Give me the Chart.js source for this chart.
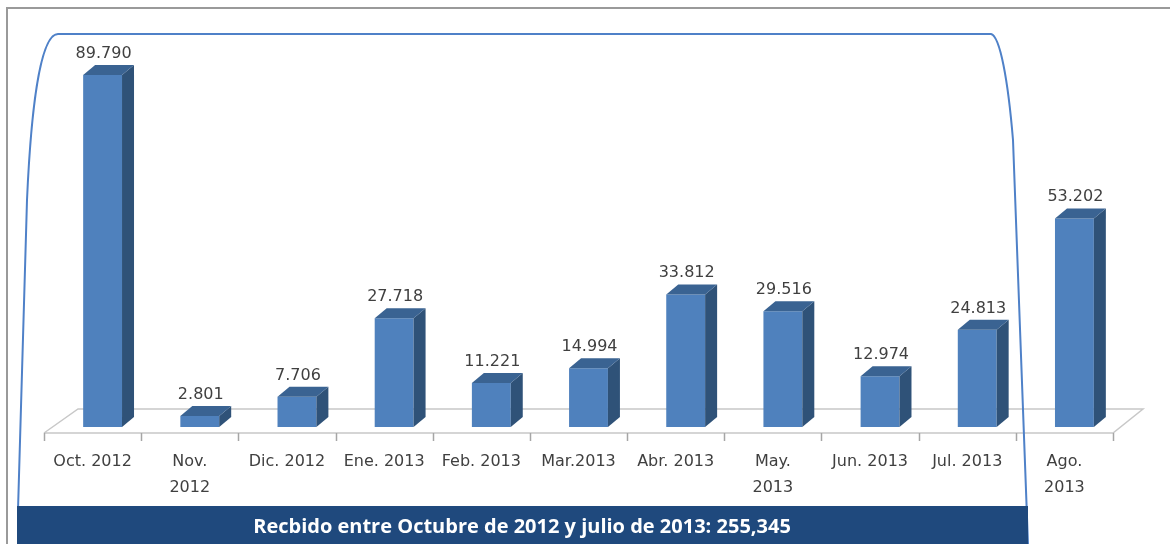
<!DOCTYPE html>
<html>
<head>
<meta charset="utf-8">
<script src="https://cdn.jsdelivr.net/npm/chart.js@4.4.1/dist/chart.umd.min.js"></script>
<style>
  html, body { margin: 0; padding: 0; background: #ffffff; }
  #wrap { width: 1170px; height: 544px; position: relative; }
  canvas { display: block; }
</style>
</head>
<body>
<div id="wrap"><canvas id="c" width="1170" height="544"></canvas></div>
<script>
// ---- Data ----
const categories = [
  "Oct. 2012", ["Nov.", "2012"], "Dic. 2012", "Ene. 2013", "Feb. 2013", "Mar.2013",
  "Abr. 2013", ["May.", "2013"], "Jun. 2013", "Jul. 2013", ["Ago.", "2013"]
];
const received = [89790, 2801, 7706, 27718, 11221, 14994, 33812, 29516, 12974, 24813, 53202];
const valueLabels = ["89.790", "2.801", "7.706", "27.718", "11.221", "14.994", "33.812", "29.516", "12.974", "24.813", "53.202"];
const bannerText = "Recbido entre Octubre de 2012 y julio de 2013: 255,345";

// ---- Styles ----
const FRONT = "#4F81BD";
const SIDE = "#2F5278";
const TOP = "#3A6392";
const TEXT = "#404040";
const DEPTH_X = 12, DEPTH_Y = 10, BAR_SHIFT = 10;

const threeD = {
  id: "threeD",
  afterDatasetsUpdate(chart) {
    const meta = chart.getDatasetMeta(0);
    meta.data.forEach(el => { el.x = el.x + BAR_SHIFT; });
  },
  beforeDatasetsDraw(chart) {
    const ctx = chart.ctx;
    const a = chart.chartArea;
    const n = categories.length;
    const front = a.bottom + 6, back = a.bottom - 18, dx = 34;
    ctx.save();
    ctx.strokeStyle = "#C8C8C8";
    ctx.lineWidth = 1.5;
    ctx.beginPath();
    ctx.moveTo(a.left, front);
    ctx.lineTo(a.right, front);
    ctx.lineTo(a.right + 30, back);
    ctx.lineTo(a.left + dx, back);
    ctx.lineTo(a.left, front);
    ctx.stroke();
    const step = (a.right - a.left) / n;
    ctx.strokeStyle = "#A6A6A6";
    for (let i = 0; i <= n; i++) {
      const x = Math.round(a.left + i * step) + 0.5;
      ctx.beginPath();
      ctx.moveTo(x, front);
      ctx.lineTo(x, front + 8);
      ctx.stroke();
    }
    ctx.restore();
  },
  afterDatasetsDraw(chart) {
    const ctx = chart.ctx;
    const meta = chart.getDatasetMeta(0);
    ctx.save();
    meta.data.forEach((el, i) => {
      const l = el.x - el.width / 2, r = el.x + el.width / 2;
      const t = el.y, b = el.base;
      ctx.fillStyle = SIDE;
      ctx.beginPath();
      ctx.moveTo(r, t);
      ctx.lineTo(r + DEPTH_X, t - DEPTH_Y);
      ctx.lineTo(r + DEPTH_X, b - DEPTH_Y);
      ctx.lineTo(r, b);
      ctx.closePath();
      ctx.fill();
      ctx.fillStyle = TOP;
      ctx.beginPath();
      ctx.moveTo(l, t);
      ctx.lineTo(l + DEPTH_X, t - DEPTH_Y);
      ctx.lineTo(r + DEPTH_X, t - DEPTH_Y);
      ctx.lineTo(r, t);
      ctx.closePath();
      ctx.fill();
      ctx.fillStyle = TEXT;
      ctx.font = "16px 'DejaVu Sans'";
      ctx.textAlign = "center";
      ctx.textBaseline = "alphabetic";
      ctx.fillText(valueLabels[i], el.x + 1, t - DEPTH_Y - 7);
    });
    ctx.restore();
  },
  afterDraw(chart) {
    const ctx = chart.ctx;
    ctx.save();
    ctx.strokeStyle = "#9A9A9A";
    ctx.lineWidth = 2;
    ctx.beginPath();
    ctx.moveTo(7, 544);
    ctx.lineTo(7, 8);
    ctx.lineTo(1170, 8);
    ctx.stroke();
    ctx.strokeStyle = "#4F81C8";
    ctx.lineWidth = 2;
    ctx.beginPath();
    ctx.moveTo(18, 510);
    ctx.lineTo(27, 200);
    ctx.bezierCurveTo(31, 110, 40, 34, 58, 34);
    ctx.lineTo(991, 34);
    ctx.bezierCurveTo(1000, 36, 1008, 80, 1013, 140);
    ctx.lineTo(1028, 544);
    ctx.stroke();
    ctx.fillStyle = "#1F497D";
    ctx.fillRect(17, 506, 1011, 38);
    ctx.fillStyle = "#FFFFFF";
    ctx.font = "bold 20px 'Open Sans'";
    ctx.textAlign = "center";
    ctx.textBaseline = "middle";
    ctx.fillText(bannerText, 522, 527);
    ctx.restore();
  }
};

new Chart(document.getElementById("c"), {
  type: "bar",
  data: {
    labels: categories,
    datasets: [{
      data: received,
      backgroundColor: FRONT,
      borderWidth: 0,
      barPercentage: 0.4,
      categoryPercentage: 1.0
    }]
  },
  options: {
    responsive: false,
    animation: false,
    events: [],
    layout: { padding: { left: 44, right: 57, top: 35, bottom: 0 } },
    plugins: { legend: { display: false }, tooltip: { enabled: false } },
    scales: {
      x: {
        grid: { display: false, drawTicks: false },
        border: { display: false },
        ticks: {
          color: TEXT,
          font: { family: "'DejaVu Sans'", size: 16, lineHeight: 1.6 },
          padding: 22,
          maxRotation: 0,
          autoSkip: false
        },
        afterFit(scale) { scale.height = 117; }
      },
      y: {
        display: false,
        min: 0,
        max: 100000
      }
    }
  },
  plugins: [threeD]
});
</script>
</body>
</html>
